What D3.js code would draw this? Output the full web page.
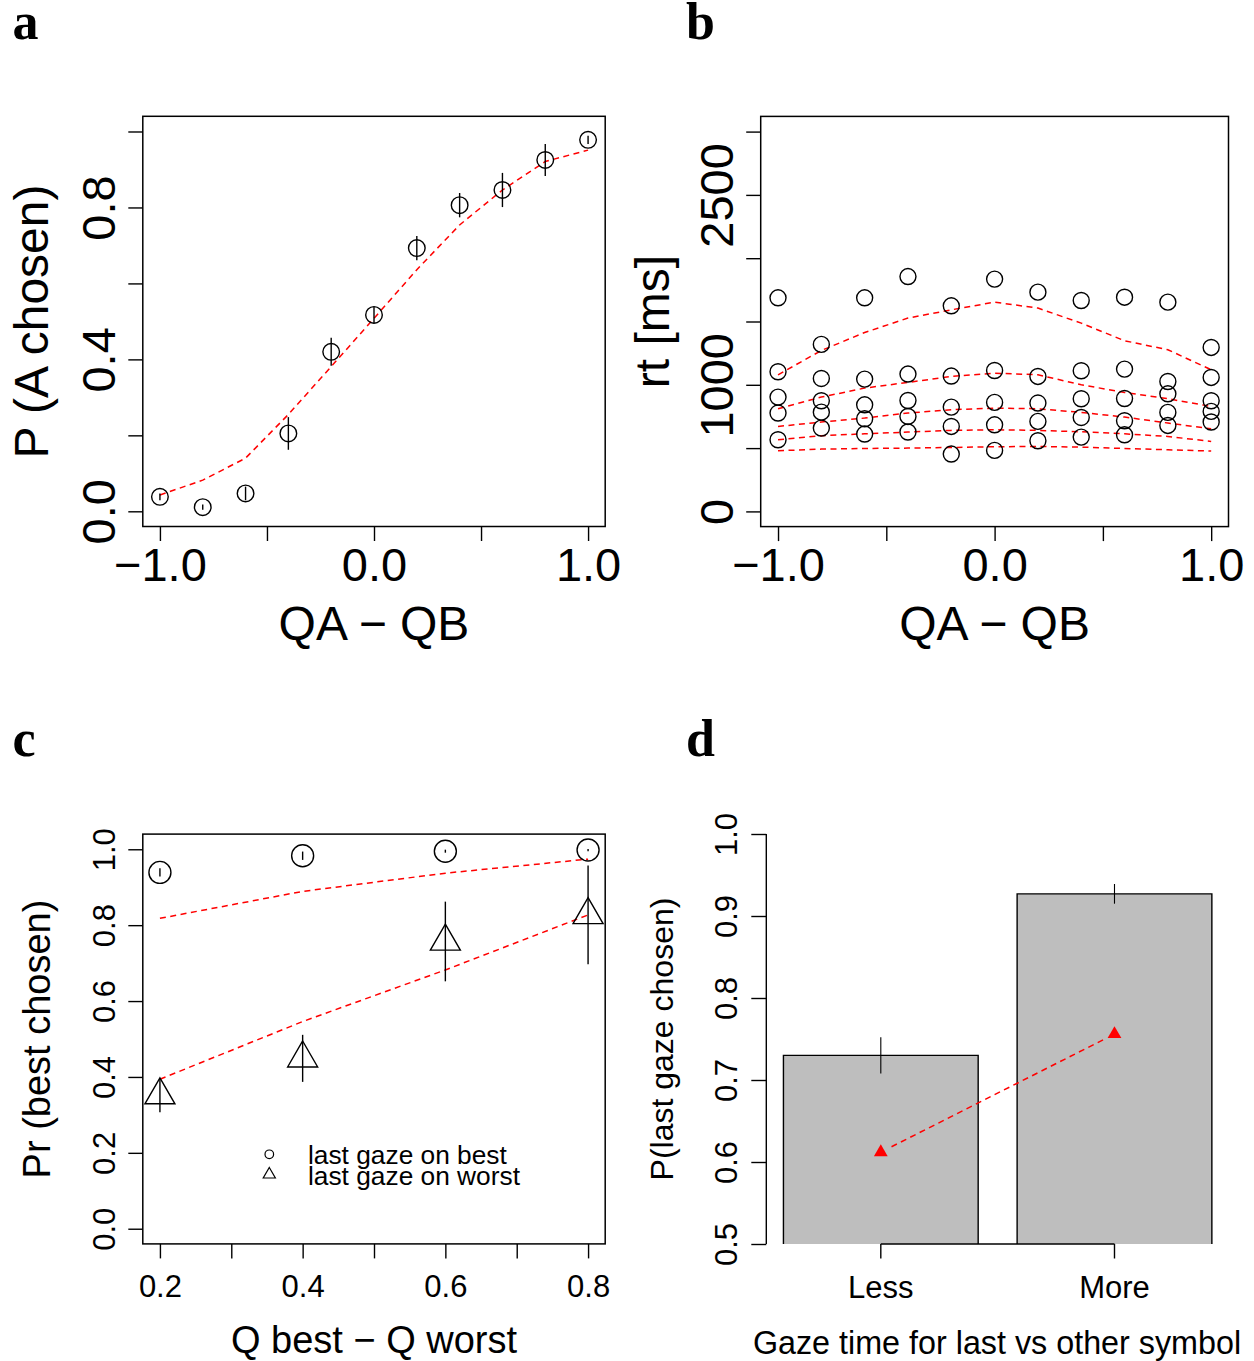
<!DOCTYPE html>
<html>
<head>
<meta charset="utf-8">
<script src="https://cdn.jsdelivr.net/npm/d3@7"></script>
<style>
  html, body { margin: 0; padding: 0; background: #fff; }
  svg { display: block; }
</style>
</head>
<body>
<svg id="fig" width="1254" height="1361"></svg>
<script>
// ---------- data ----------
// a: choice probability vs value difference
const qDiff          = [-1, -0.8, -0.6, -0.4, -0.2, 0, 0.2, 0.4, 0.6, 0.8, 1];
const pChosenA       = [0.038, 0.011, 0.047, 0.205, 0.420, 0.517, 0.693, 0.806, 0.846, 0.925, 0.978];
const pChosenAErr    = [0.009, 0.007, 0.018, 0.043, 0.037, 0.021, 0.032, 0.032, 0.045, 0.042, 0.011];
const pChosenAModel  = [0.043, 0.082, 0.140, 0.255, 0.381, 0.508, 0.636, 0.754, 0.846, 0.921, 0.951];
const aTicksX = [-1, -0.5, 0, 0.5, 1];
const aLabelsX = [true, false, true, false, true];
const aTicksY = [0, 0.2, 0.4, 0.6, 0.8, 1];
const aLabelsY = [true, false, true, false, true, false];

// b: response time quantiles (observed circles, model dashed lines)
const rtQ10 = [566, 658, 611, 627, 453, 482, 558, 587, 605, 679, 706];
const rtQ30 = [777, 784, 732, 750, 671, 684, 711, 742, 716, 782, 790];
const rtQ50 = [903, 874, 842, 876, 824, 861, 856, 890, 892, 929, 874];
const rtQ70 = [1103, 1050, 1045, 1085, 1069, 1113, 1066, 1111, 1124, 1026, 1058];
const rtQ90 = [1687, 1319, 1687, 1855, 1624, 1835, 1732, 1666, 1692, 1653, 1295];
const rtModelQ10 = [479, 492, 497, 500, 505, 511, 513, 508, 497, 487, 477];
const rtModelQ30 = [566, 598, 613, 627, 640, 645, 640, 629, 613, 592, 553];
const rtModelQ50 = [671, 706, 737, 777, 803, 816, 811, 782, 745, 698, 653];
const rtModelQ70 = [811, 903, 974, 1019, 1066, 1092, 1079, 1000, 940, 890, 829];
const rtModelQ90 = [1079, 1271, 1413, 1527, 1592, 1653, 1606, 1487, 1348, 1277, 1119];
const bTicksY = [0, 500, 1000, 1500, 2000, 2500, 3000];
const bLabelsY = [true, false, true, false, false, true, false];

// c: best option chosen, split by last gaze
const qGap = [0.2, 0.4, 0.6, 0.8];
const pBestLastBest     = [0.939, 0.983, 0.995, 0.998];
const pBestLastBestErr  = [0.011, 0.011, 0.004, 0.003];
const pBestLastWorst    = [0.352, 0.449, 0.757, 0.827];
const pBestLastWorstErr = [0.045, 0.062, 0.105, 0.130];
const modelLastBest  = [0.818, 0.889, 0.937, 0.974];
const modelLastWorst = [0.394, 0.546, 0.682, 0.827];
const cTicksX = [0.2, 0.3, 0.4, 0.5, 0.6, 0.7, 0.8];
const cLabelsX = [true, false, true, false, true, false, true];
const cTicksY = [0, 0.2, 0.4, 0.6, 0.8, 1];
const cLegend = ["last gaze on best", "last gaze on worst"];

// d: last-gazed option chosen vs relative gaze time
const gazeGroups = ["Less", "More"];
const pLastChosen    = [0.730, 0.927];
const pLastChosenErr = [0.022, 0.012];
const modelLastChosen = [0.612, 0.756];
const dTicksY = [0.5, 0.6, 0.7, 0.8, 0.9, 1.0];

// ---------- drawing helpers ----------
const SANS = '"Liberation Sans", Arial, Helvetica, sans-serif';
const SERIF = '"Liberation Serif", "Times New Roman", serif';
const RED = "#ff0000";
const LW = 1.4;
const DASH = "6,4.5";
const svg = d3.select("#fig");

const fmt1 = d => (d < 0 ? "\u2212" : "") + Math.abs(d).toFixed(1);

function bottomAxis(g, scale, y, ticks, labelled, fmt, o) {
  const ax = d3.axisBottom(scale).tickValues(ticks).tickSize(o.tickLen).tickSizeOuter(0)
    .tickFormat((d, i) => (labelled ? labelled[i] : true) ? fmt(d) : "");
  const a = g.append("g").attr("transform", `translate(0,${y})`).call(ax)
    .attr("font-size", null).attr("font-family", null);
  a.select(".domain").remove();
  a.selectAll(".tick line").attr("stroke", "#000").attr("stroke-width", LW);
  a.selectAll(".tick text").attr("y", o.labelOffset).attr("dy", null).attr("fill", "#000")
    .attr("font-size", o.fontSize).attr("font-family", SANS);
  return a;
}

function leftAxis(g, scale, x, ticks, labelled, fmt, o) {
  const ax = d3.axisLeft(scale).tickValues(ticks).tickSize(o.tickLen).tickSizeOuter(0)
    .tickFormat((d, i) => (labelled ? labelled[i] : true) ? fmt(d) : "");
  const a = g.append("g").attr("transform", `translate(${x},0)`).call(ax)
    .attr("font-size", null).attr("font-family", null);
  a.select(".domain").remove();
  a.selectAll(".tick line").attr("stroke", "#000").attr("stroke-width", LW);
  a.selectAll(".tick text").attr("x", null).attr("dy", null).attr("fill", "#000")
    .attr("text-anchor", "middle")
    .attr("transform", `translate(${-o.labelOffset},0) rotate(-90)`)
    .attr("font-size", o.fontSize).attr("font-family", SANS);
  return a;
}

function frame(g, x, y) {
  g.append("rect")
    .attr("x", x.range()[0]).attr("y", y.range()[1])
    .attr("width", x.range()[1] - x.range()[0]).attr("height", y.range()[0] - y.range()[1])
    .attr("fill", "none").attr("stroke", "#000").attr("stroke-width", 1.5);
}

function label(g, txt, x, y, size, rotate, opts = {}) {
  const t = g.append("text").text(txt).attr("font-family", opts.family || SANS)
    .attr("font-size", size).attr("fill", "#000")
    .attr("font-weight", opts.weight || "normal")
    .attr("text-anchor", opts.anchor || "middle");
  if (rotate) t.attr("transform", `translate(${x},${y}) rotate(-90)`);
  else t.attr("x", x).attr("y", y);
  return t;
}

function dashed(g, pts) {
  g.append("path").attr("d", d3.line()(pts)).attr("fill", "none")
    .attr("stroke", RED).attr("stroke-width", 1.5).attr("stroke-dasharray", DASH);
}

// R-style padded domain (4% each side)
const pad = (lo, hi) => [lo - 0.04 * (hi - lo), hi + 0.04 * (hi - lo)];

// ---------- panel a ----------
{
  const g = svg.append("g");
  const x = d3.scaleLinear().domain(pad(-1, 1)).range([142.8, 605.2]);
  const y = d3.scaleLinear().domain(pad(0, 1)).range([526.5, 116.3]);
  dashed(g, qDiff.map((d, i) => [x(d), y(pChosenAModel[i])]));
  g.selectAll("line.err").data(qDiff).join("line")
    .attr("x1", d => x(d)).attr("x2", d => x(d))
    .attr("y1", (d, i) => y(pChosenA[i] - pChosenAErr[i]))
    .attr("y2", (d, i) => y(pChosenA[i] + pChosenAErr[i]))
    .attr("stroke", "#000").attr("stroke-width", LW);
  g.selectAll("circle").data(qDiff).join("circle")
    .attr("cx", d => x(d)).attr("cy", (d, i) => y(pChosenA[i])).attr("r", 8.3)
    .attr("fill", "none").attr("stroke", "#000").attr("stroke-width", LW);
  frame(g, x, y);
  bottomAxis(g, x, 526.5, aTicksX, aLabelsX, fmt1, { tickLen: 14.5, labelOffset: 54.5, fontSize: 47 });
  leftAxis(g, y, 142.8, aTicksY, aLabelsY, d => d.toFixed(1), { tickLen: 14.5, labelOffset: 28, fontSize: 47 });
  label(g, "QA \u2212 QB", 374, 640, 48);
  label(g, "P (A chosen)", 48, 321.5, 48, true);
  label(g, "a", 12.5, 39, 52, false, { family: SERIF, weight: "bold", anchor: "start" });
}

// ---------- panel b ----------
{
  const g = svg.append("g");
  const x = d3.scaleLinear().domain(pad(-1, 1)).range([760.7, 1228.5]);
  const y = d3.scaleLinear().domain(pad(0, 3000)).range([526.6, 116.4]);
  [rtModelQ10, rtModelQ30, rtModelQ50, rtModelQ70, rtModelQ90].forEach(m =>
    dashed(g, qDiff.map((d, i) => [x(d), y(m[i])])));
  [rtQ10, rtQ30, rtQ50, rtQ70, rtQ90].forEach(q =>
    g.append("g").selectAll("circle").data(qDiff).join("circle")
      .attr("cx", d => x(d)).attr("cy", (d, i) => y(q[i])).attr("r", 8)
      .attr("fill", "none").attr("stroke", "#000").attr("stroke-width", LW));
  frame(g, x, y);
  bottomAxis(g, x, 526.6, aTicksX, aLabelsX, fmt1, { tickLen: 14.5, labelOffset: 54.5, fontSize: 47 });
  leftAxis(g, y, 760.7, bTicksY, bLabelsY, d3.format("d"), { tickLen: 14.5, labelOffset: 28, fontSize: 47 });
  label(g, "QA \u2212 QB", 994.6, 640, 48);
  label(g, "rt [ms]", 669, 321.5, 48, true);
  label(g, "b", 686, 39, 52, false, { family: SERIF, weight: "bold", anchor: "start" });
}

// ---------- panel c ----------
{
  const g = svg.append("g");
  const x = d3.scaleLinear().domain(pad(0.2, 0.8)).range([142.8, 605.2]);
  const y = d3.scaleLinear().domain(pad(0, 1)).range([1243.9, 834.1]);
  dashed(g, qGap.map((d, i) => [x(d), y(modelLastBest[i])]));
  dashed(g, qGap.map((d, i) => [x(d), y(modelLastWorst[i])]));
  const errs = [[pBestLastBest, pBestLastBestErr], [pBestLastWorst, pBestLastWorstErr]];
  errs.forEach(([v, e]) =>
    g.append("g").selectAll("line").data(qGap).join("line")
      .attr("x1", d => x(d)).attr("x2", d => x(d))
      .attr("y1", (d, i) => y(v[i] - e[i])).attr("y2", (d, i) => y(v[i] + e[i]))
      .attr("stroke", "#000").attr("stroke-width", LW));
  g.append("g").selectAll("circle").data(qGap).join("circle")
    .attr("cx", d => x(d)).attr("cy", (d, i) => y(pBestLastBest[i])).attr("r", 11)
    .attr("fill", "none").attr("stroke", "#000").attr("stroke-width", LW);
  const tri = d3.symbol(d3.symbolTriangle, 390);
  g.append("g").selectAll("path").data(qGap).join("path")
    .attr("d", tri).attr("transform", (d, i) => `translate(${x(d)},${y(pBestLastWorst[i])})`)
    .attr("fill", "none").attr("stroke", "#000").attr("stroke-width", LW);
  // legend
  g.append("circle").attr("cx", 269.3).attr("cy", 1154.3).attr("r", 4.3)
    .attr("fill", "none").attr("stroke", "#000").attr("stroke-width", 1.2);
  g.append("path").attr("d", d3.symbol(d3.symbolTriangle, 64)())
    .attr("transform", "translate(269.3,1174.5)")
    .attr("fill", "none").attr("stroke", "#000").attr("stroke-width", 1.2);
  cLegend.forEach((t, i) => label(g, t, 308, 1164 + i * 21, 26.3, false, { anchor: "start" }));
  frame(g, x, y);
  bottomAxis(g, x, 1243.9, cTicksX, cLabelsX, d => d.toFixed(1), { tickLen: 14.5, labelOffset: 53, fontSize: 31 });
  leftAxis(g, y, 142.8, cTicksY, null, d => d.toFixed(1), { tickLen: 14.5, labelOffset: 28, fontSize: 31 });
  label(g, "Q best \u2212 Q worst", 374, 1353, 38);
  label(g, "Pr (best chosen)", 50, 1039, 38, true);
  label(g, "c", 12.5, 755.5, 52, false, { family: SERIF, weight: "bold", anchor: "start" });
}

// ---------- panel d ----------
{
  const g = svg.append("g");
  // bar units: bars of width 1 separated by 0.2, plot region spans 0.112..2.488
  const u = d3.scaleLinear().domain([0.112, 2.488]).range([766.3, 1229]);
  const x = d3.scaleBand().domain(gazeGroups).range([u(0.1), u(2.5)])
    .paddingInner(1 / 6).paddingOuter(1 / 12);
  const y = d3.scaleLinear().domain([0.5, 1.0]).range([1244, 834]);
  const bw = x.bandwidth();
  g.selectAll("rect.bar").data(gazeGroups).join("rect")
    .attr("x", d => x(d)).attr("width", bw)
    .attr("y", (d, i) => y(pLastChosen[i])).attr("height", (d, i) => y(0.5) - y(pLastChosen[i]))
    .attr("fill", "#bebebe");
  g.selectAll("path.barEdge").data(gazeGroups).join("path")
    .attr("d", (d, i) => `M${x(d)},${y(0.5)}V${y(pLastChosen[i])}H${x(d) + bw}V${y(0.5)}`)
    .attr("fill", "none").attr("stroke", "#000").attr("stroke-width", 1.4);
  const cx = d => x(d) + bw / 2;
  g.selectAll("line.err").data(gazeGroups).join("line")
    .attr("x1", cx).attr("x2", cx)
    .attr("y1", (d, i) => y(pLastChosen[i] - pLastChosenErr[i]))
    .attr("y2", (d, i) => y(pLastChosen[i] + pLastChosenErr[i]))
    .attr("stroke", "#000").attr("stroke-width", 1.1);
  // model prediction: dashed connector with gaps around the symbols
  const p0 = [cx(gazeGroups[0]), y(modelLastChosen[0])];
  const p1 = [cx(gazeGroups[1]), y(modelLastChosen[1])];
  const len = Math.hypot(p1[0] - p0[0], p1[1] - p0[1]);
  const ux = (p1[0] - p0[0]) / len, uy = (p1[1] - p0[1]) / len, gap = 12;
  dashed(g, [[p0[0] + ux * gap, p0[1] + uy * gap], [p1[0] - ux * gap, p1[1] - uy * gap]]);
  g.selectAll("path.model").data(gazeGroups).join("path")
    .attr("d", d3.symbol(d3.symbolTriangle, 82))
    .attr("transform", (d, i) => `translate(${cx(d)},${y(modelLastChosen[i])})`)
    .attr("fill", RED);
  // axes (line spans first to last tick)
  g.append("line").attr("x1", u.range()[0]).attr("x2", u.range()[0]).attr("y1", y(0.5)).attr("y2", y(1.0))
    .attr("stroke", "#000").attr("stroke-width", LW);
  g.append("line").attr("x1", cx(gazeGroups[0])).attr("x2", cx(gazeGroups[1]))
    .attr("y1", y(0.5)).attr("y2", y(0.5)).attr("stroke", "#000").attr("stroke-width", LW);
  bottomAxis(g, x, 1244, gazeGroups, null, d => d, { tickLen: 14.5, labelOffset: 54, fontSize: 31 });
  leftAxis(g, y, u.range()[0], dTicksY, null, d => d.toFixed(1), { tickLen: 15, labelOffset: 29, fontSize: 31 });
  label(g, "Gaze time for last vs other symbol", 997, 1354, 32.3);
  label(g, "P(last gaze chosen)", 673, 1039, 32, true);
  label(g, "d", 686, 755.5, 52, false, { family: SERIF, weight: "bold", anchor: "start" });
}
</script>
</body>
</html>
